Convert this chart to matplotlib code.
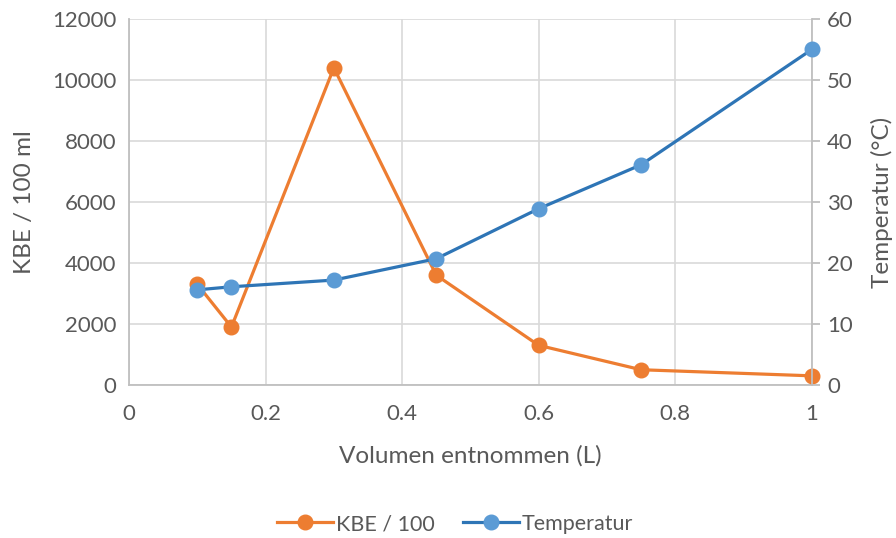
import matplotlib
matplotlib.use("Agg")
import matplotlib.pyplot as plt
from matplotlib.lines import Line2D

plt.rcParams["font.family"] = ["Lato", "DejaVu Sans"]

# data
volumen = [0.1, 0.15, 0.3, 0.45, 0.6, 0.75, 1.0]
kbe = [3300, 1900, 10400, 3600, 1300, 500, 300]
temperatur = [15.6, 16.1, 17.2, 20.7, 28.9, 36.1, 55.0]

ORANGE = "#ED7D31"
BLUE_LINE = "#2E75B6"
BLUE_MARK = "#5B9BD5"
GRID = "#D9D9D9"
AXIS = "#BFBFBF"
TEXT = "#595959"

fig = plt.figure(figsize=(8.96, 5.38), dpi=100)
ax = fig.add_axes([0.144, 0.2844, 0.762, 0.6803])
ax2 = ax.twinx()

ax.plot(volumen, kbe, color=ORANGE, lw=2.3, marker="o", ms=10.5,
        mfc=ORANGE, mec=ORANGE, clip_on=False, zorder=3)
ax2.plot(volumen, temperatur, color=BLUE_LINE, lw=2.3, marker="o", ms=10.5,
         mfc=BLUE_MARK, mec=BLUE_MARK, clip_on=False, zorder=3)

ax.set_xlim(0, 1)
ax.set_ylim(0, 12000)
ax2.set_ylim(0, 60)
ax.set_xticks([0, 0.2, 0.4, 0.6, 0.8, 1.0])
ax.set_xticklabels(["0", "0.2", "0.4", "0.6", "0.8", "1"])
ax.set_yticks(range(0, 12001, 2000))
ax2.set_yticks(range(0, 61, 10))

ax.grid(True, color=GRID, lw=1.2)
ax.set_axisbelow(True)

for a in (ax, ax2):
    for s in a.spines.values():
        s.set_visible(False)
ax.spines["left"].set_visible(True)
ax.spines["bottom"].set_visible(True)
ax.spines["left"].set_color(AXIS)
ax.spines["bottom"].set_color(AXIS)
ax.spines["left"].set_linewidth(1.3)
ax.spines["bottom"].set_linewidth(1.3)
ax2.spines["right"].set_visible(True)
ax2.spines["right"].set_color(AXIS)
ax2.spines["right"].set_linewidth(1.3)

ax.tick_params(axis="y", length=0, labelsize=16, labelcolor=TEXT, pad=9)
ax.tick_params(axis="x", length=0, labelsize=16, labelcolor=TEXT, pad=14)
ax2.tick_params(axis="y", length=6, width=1.3, color=AXIS, direction="out",
                labelsize=16, labelcolor=TEXT, pad=5)

ax.set_xlabel("Volumen entnommen (L)", fontsize=17.5, color=TEXT, labelpad=15)
ax.set_ylabel("KBE / 100 ml", fontsize=17.5, color=TEXT, labelpad=12)
ax2.set_ylabel("Temperatur (°C)", fontsize=17.5, color=TEXT, labelpad=13)

handles = [
    Line2D([], [], color=ORANGE, lw=2.3, marker="o", ms=10.5, mfc=ORANGE, mec=ORANGE),
    Line2D([], [], color=BLUE_LINE, lw=2.3, marker="o", ms=10.5, mfc=BLUE_MARK, mec=BLUE_MARK),
]
fig.legend(handles, ["KBE / 100", "Temperatur"], loc="center", bbox_to_anchor=(0.508, 0.026),
           ncol=2, frameon=False, fontsize=15.5, labelcolor=TEXT, handlelength=2.6,
           handletextpad=0.15, columnspacing=1.3)

fig.savefig("out.png", dpi=100)
